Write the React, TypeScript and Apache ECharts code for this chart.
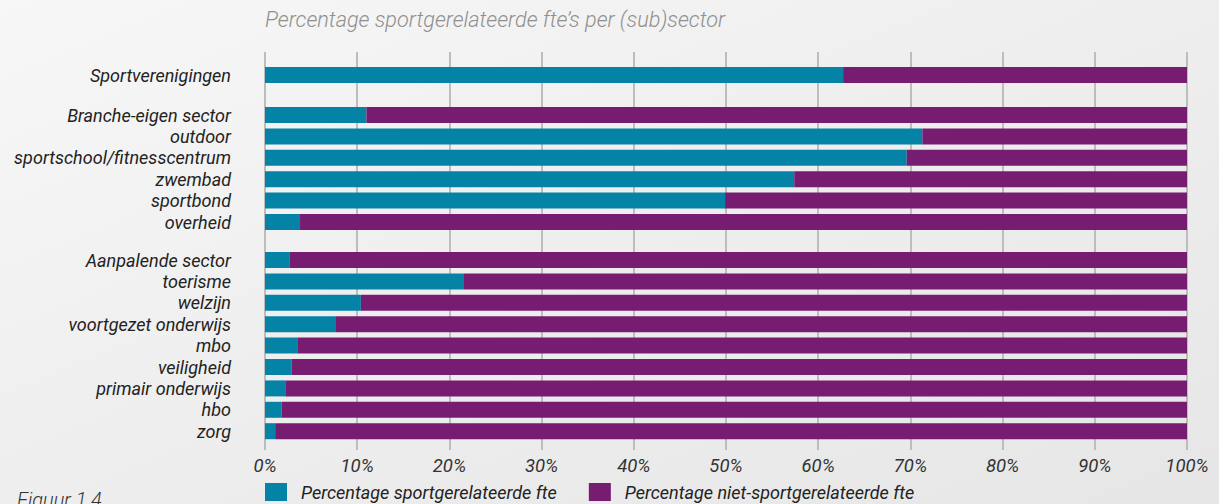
import React, { useEffect, useRef } from "react";
import * as echarts from "echarts";

const titleText = "Percentage sportgerelateerde fte’s per (sub)sector";
const seriesNames = ["Percentage sportgerelateerde fte", "Percentage niet-sportgerelateerde fte"];

const groupA = ["Sportverenigingen"];
const groupB = ["Branche-eigen sector", "outdoor", "sportschool/fitnesscentrum", "zwembad", "sportbond", "overheid"];
const groupC = ["Aanpalende sector", "toerisme", "welzijn", "voortgezet onderwijs", "mbo", "veiligheid", "primair onderwijs", "hbo", "zorg"];

const sportA = [62.7];
const nonSportA = [37.3];
const sportB = [11.0, 71.3, 69.6, 57.4, 49.9, 3.8];
const nonSportB = [89.0, 28.7, 30.4, 42.6, 50.1, 96.2];
const sportC = [2.7, 21.5, 10.4, 7.7, 3.5, 2.9, 2.2, 1.8, 1.1];
const nonSportC = [97.3, 78.5, 89.6, 92.3, 96.5, 97.1, 97.8, 98.2, 98.9];

const xTicks = [0, 10, 20, 30, 40, 50, 60, 70, 80, 90, 100];

const TEAL = "#0583a7";
const PURPLE = "#761d71";
const FONT = "Roboto, 'Open Sans', sans-serif";

export default function App() {
  const ref = useRef<HTMLDivElement>(null);

  useEffect(() => {
    if (!ref.current) return;
    const chart = echarts.init(ref.current, null, { renderer: "svg" });

    const left = 265;
    const right = 32;
    const slot = 21.4;
    const groups = [
      { cats: groupA, sport: sportA, non: nonSportA, top: 75 - slot / 2 },
      { cats: groupB, sport: sportB, non: nonSportB, top: 115 - slot / 2 },
      { cats: groupC, sport: sportC, non: nonSportC, top: 260 - slot / 2 },
    ];

    const grids: any[] = [{ left, right, top: 52, bottom: 54 }];
    const xAxes: any[] = [
      {
        gridIndex: 0,
        type: "value",
        min: xTicks[0],
        max: xTicks[xTicks.length - 1],
        interval: 10,
        axisLine: { show: false },
        axisTick: { show: false },
        axisLabel: {
          formatter: "{value}%",
          margin: 6,
          fontFamily: FONT,
          fontStyle: "italic",
          fontSize: 18.5,
          color: "#333",
        },
        splitLine: { show: true, lineStyle: { color: "#bdbdbd", width: 2 } },
      },
    ];
    const yAxes: any[] = [{ gridIndex: 0, type: "value", min: 0, max: 1, show: false }];
    const series: any[] = [];

    groups.forEach((g, i) => {
      const gi = i + 1;
      grids.push({ left, right, top: g.top, height: slot * g.cats.length });
      xAxes.push({ gridIndex: gi, type: "value", min: 0, max: 100, show: false });
      yAxes.push({
        gridIndex: gi,
        type: "category",
        data: g.cats,
        inverse: true,
        axisLine: { show: false },
        axisTick: { show: false },
        axisLabel: {
          interval: 0,
          hideOverlap: false,
          margin: 34,
          fontFamily: FONT,
          fontStyle: "italic",
          fontSize: 18,
          lineHeight: 19,
          color: "#222",
        },
      });
      series.push({
        name: seriesNames[0],
        type: "bar",
        xAxisIndex: gi,
        yAxisIndex: gi,
        stack: "s" + gi,
        barWidth: 16,
        itemStyle: { color: TEAL },
        data: g.sport,
      });
      series.push({
        name: seriesNames[1],
        type: "bar",
        xAxisIndex: gi,
        yAxisIndex: gi,
        stack: "s" + gi,
        barWidth: 16,
        itemStyle: { color: PURPLE },
        data: g.non,
      });
    });

    chart.setOption({
      animation: false,
      backgroundColor: {
        type: "linear",
        x: 0,
        y: 0,
        x2: 1,
        y2: 1,
        colorStops: [
          { offset: 0, color: "#f7f7f7" },
          { offset: 0.5, color: "#eeeeee" },
          { offset: 1, color: "#e6e6e6" },
        ],
      },
      title: {
        text: titleText,
        left: 265,
        top: 8,
        padding: 0,
        textStyle: {
          fontFamily: FONT,
          fontStyle: "italic",
          fontWeight: 300,
          fontSize: 21.7,
          color: "#8f8f8f",
        },
      },
      legend: {
        left: 265,
        top: 483,
        padding: 0,
        itemWidth: 22,
        itemHeight: 18,
        itemGap: 32,
        icon: "rect",
        data: seriesNames,
        textStyle: {
          fontFamily: FONT,
          fontStyle: "italic",
          fontSize: 18,
          lineHeight: 18,
          color: "#222",
          padding: [0, 0, 0, 9],
        },
      },
      graphic: [
        {
          type: "text",
          left: 17,
          top: 490,
          style: {
            text: "Figuur 1.4",
            fontFamily: FONT,
            fontStyle: "italic",
            fontWeight: 300,
            fontSize: 20,
            fill: "#333",
          },
        },
      ],
      grid: grids,
      xAxis: xAxes,
      yAxis: yAxes,
      series,
    });

    return () => chart.dispose();
  }, []);

  return (
    <div
      ref={ref}
      style={{ position: "fixed", left: 0, top: 0, width: 1219, height: 504 }}
    />
  );
}
